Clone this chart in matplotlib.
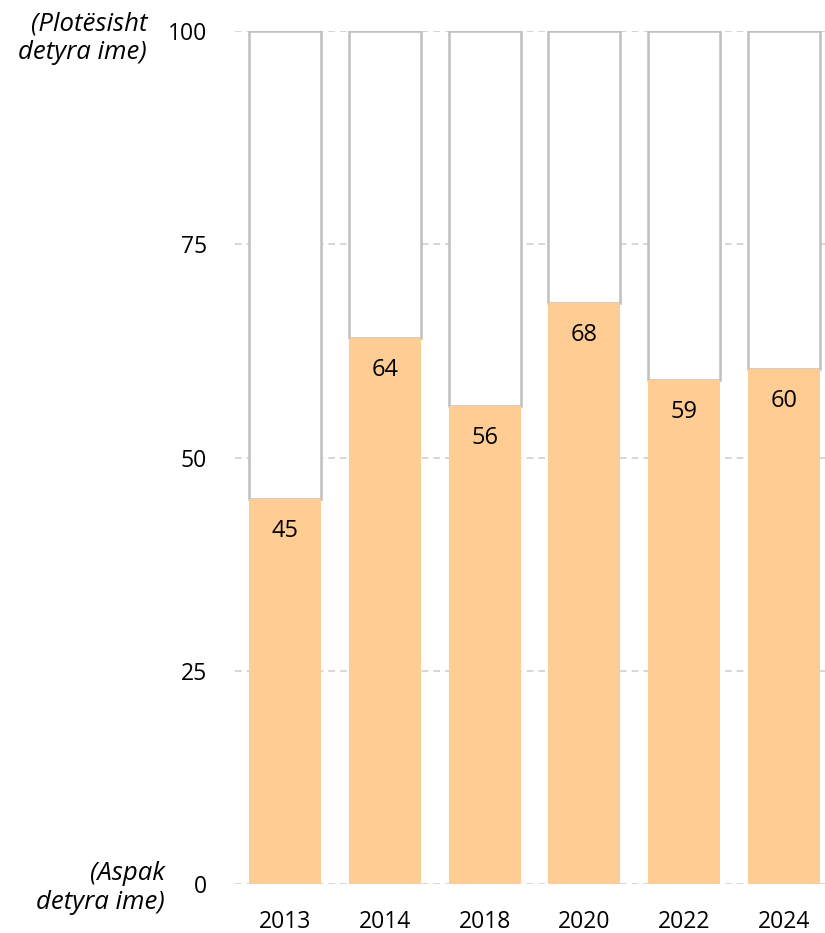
import matplotlib
matplotlib.use("Agg")
import matplotlib.pyplot as plt

years = ["2013", "2014", "2018", "2020", "2022", "2024"]
values = [45.1, 64.0, 56.0, 68.1, 59.1, 60.4]
scale_max = 100
yticks = [0, 25, 50, 75, 100]
top_label = "(Plotësisht\ndetyra ime)"
bottom_label = "(Aspak\ndetyra ime)"

plt.rcParams['font.family'] = ['Open Sans', 'DejaVu Sans']

fig = plt.figure(figsize=(8.25, 9.33), dpi=100)
ax = fig.add_axes([235/825, 49/933, 1 - 235/825, (884-31)/933])

x = list(range(len(years)))
rest = [scale_max - v for v in values]
ax.bar(x, rest, bottom=values, width=0.72, color='white', edgecolor='#BFBFBF', linewidth=1.8, zorder=2)
ax.bar(x, values, width=0.72, color='#FFCC93', edgecolor='none', zorder=3)

for xi, v in zip(x, values):
    ax.annotate(f"{v:.0f}", (xi, v), xytext=(0, -23), textcoords='offset points',
                ha='center', va='center', fontsize=17, color='black', zorder=4)

ax.set_xlim(-0.5, 5.41)
ax.set_ylim(0, 100)
ax.set_yticks(yticks)
ax.set_xticks(x)
ax.set_xticklabels(years)
ax.tick_params(axis='both', length=0, labelsize=16.5)
ax.tick_params(axis='y', pad=20)
ax.tick_params(axis='x', pad=19)
ax.yaxis.grid(True, linestyle=(0, (4, 3)), color='#D0D0D0', linewidth=1.2, zorder=0)
ax.set_axisbelow(True)
for s in ax.spines.values():
    s.set_visible(False)

fig.text(147/825, 1 - 38/933, top_label, ha='right', va='center', fontsize=18.5,
         style='italic', linespacing=1.2)
fig.text(165/825, 1 - 888/933, bottom_label, ha='right', va='center', fontsize=18.5,
         style='italic', linespacing=1.2)

fig.savefig("out.png", dpi=100)
